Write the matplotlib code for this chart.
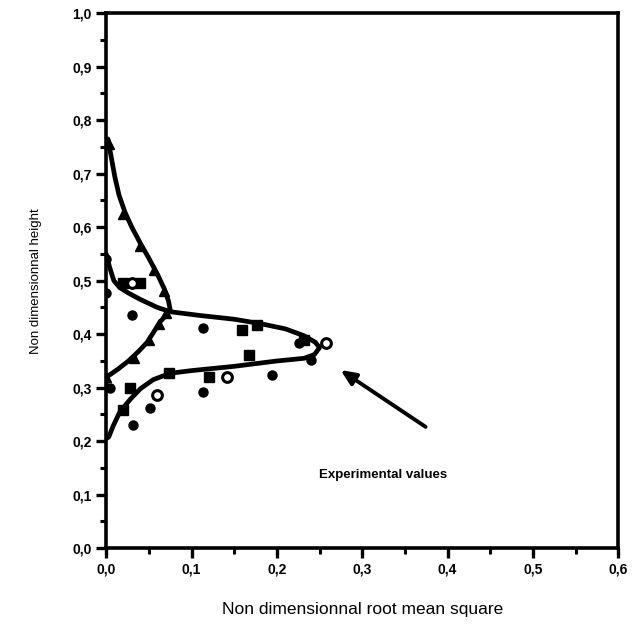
import matplotlib
matplotlib.use("Agg")
import matplotlib.pyplot as plt
from matplotlib.ticker import MultipleLocator, FuncFormatter

plt.rcParams['font.family'] = ['Liberation Sans', 'DejaVu Sans']

# fitted curves
curve1_x = [0.002, 0.006, 0.01, 0.015, 0.022, 0.03, 0.04, 0.05, 0.06, 0.068, 0.073, 0.075,
            0.07, 0.063, 0.056, 0.048, 0.038, 0.026, 0.014, 0.005, 0.0, 0.0]
curve1_y = [0.765, 0.73, 0.695, 0.66, 0.628, 0.6, 0.57, 0.542, 0.512, 0.485, 0.462, 0.445,
            0.435, 0.423, 0.405, 0.385, 0.368, 0.35, 0.335, 0.325, 0.32, 0.30]

curve2_x = [0.0, 0.004, 0.009, 0.016, 0.026, 0.04, 0.06, 0.075, 0.11, 0.15, 0.18, 0.21, 0.232, 0.245, 0.25,
            0.244, 0.232, 0.2, 0.15, 0.1, 0.075, 0.055, 0.04, 0.028, 0.016, 0.008, 0.003, 0.0]
curve2_y = [0.55, 0.525, 0.5, 0.487, 0.477, 0.465, 0.45, 0.442, 0.435, 0.428, 0.42, 0.41, 0.397, 0.385, 0.375,
            0.362, 0.355, 0.35, 0.34, 0.332, 0.327, 0.315, 0.298, 0.278, 0.255, 0.228, 0.208, 0.205]

# experimental points
tri_x = [0.003, 0.02, 0.04, 0.056, 0.068, 0.07, 0.062, 0.05, 0.032, 0.0]
tri_y = [0.755, 0.625, 0.565, 0.52, 0.48, 0.44, 0.42, 0.39, 0.355, 0.32]

circ_x = [0.0, 0.0, 0.03, 0.113, 0.194, 0.113, 0.051, 0.031, 0.226, 0.24, 0.004]
circ_y = [0.54, 0.477, 0.436, 0.411, 0.323, 0.292, 0.262, 0.23, 0.383, 0.351, 0.30]

sq_x = [0.02, 0.04, 0.159, 0.177, 0.167, 0.028, 0.02, 0.232, 0.074, 0.121]
sq_y = [0.495, 0.495, 0.407, 0.417, 0.361, 0.299, 0.258, 0.39, 0.327, 0.32]

open_x = [0.258, 0.141, 0.06, 0.03]
open_y = [0.383, 0.32, 0.286, 0.495]

fig = plt.figure(figsize=(6.36, 6.28), dpi=100)
ax = fig.add_axes([0.167, 0.127, 0.805, 0.852])

ax.plot(curve1_x, curve1_y, color='black', lw=3.4, solid_capstyle='round', solid_joinstyle='round')
ax.plot(curve2_x, curve2_y, color='black', lw=3.4, solid_capstyle='round', solid_joinstyle='round')
ax.plot(tri_x, tri_y, '^', color='black', ms=7)
ax.plot(circ_x, circ_y, 'o', color='black', ms=6.5)
ax.plot(sq_x, sq_y, 's', color='black', ms=6.5)
ax.plot(open_x, open_y, 'o', mfc='white', mec='black', mew=2.2, ms=7)

ax.annotate('', xy=(0.272, 0.336), xytext=(0.377, 0.224),
            arrowprops=dict(arrowstyle='-|>,head_length=0.9,head_width=0.4',
                            color='black', lw=2.8))
ax.text(0.324, 0.136, 'Experimental values', ha='center', va='center',
        fontsize=9.5, fontweight='bold')

ax.set_xlim(0, 0.6)
ax.set_ylim(0, 1.0)
ax.xaxis.set_major_locator(MultipleLocator(0.1))
ax.xaxis.set_minor_locator(MultipleLocator(0.05))
ax.yaxis.set_major_locator(MultipleLocator(0.1))
ax.yaxis.set_minor_locator(MultipleLocator(0.05))
fmt = FuncFormatter(lambda v, p: ('%.1f' % v).replace('.', ','))
ax.xaxis.set_major_formatter(fmt)
ax.yaxis.set_major_formatter(fmt)
ax.tick_params(which='major', length=7, width=2.4, labelsize=10, direction='out')
ax.tick_params(which='minor', length=4, width=2.2, direction='out')
for lab in ax.get_xticklabels() + ax.get_yticklabels():
    lab.set_fontweight('bold')
for s in ax.spines.values():
    s.set_linewidth(2.6)

ax.set_xlabel('Non dimensionnal root mean square', fontsize=12.5, labelpad=18)
ax.set_ylabel('Non dimensionnal height', fontsize=9.5, labelpad=22)

fig.savefig('out.png', dpi=100, facecolor='white')
